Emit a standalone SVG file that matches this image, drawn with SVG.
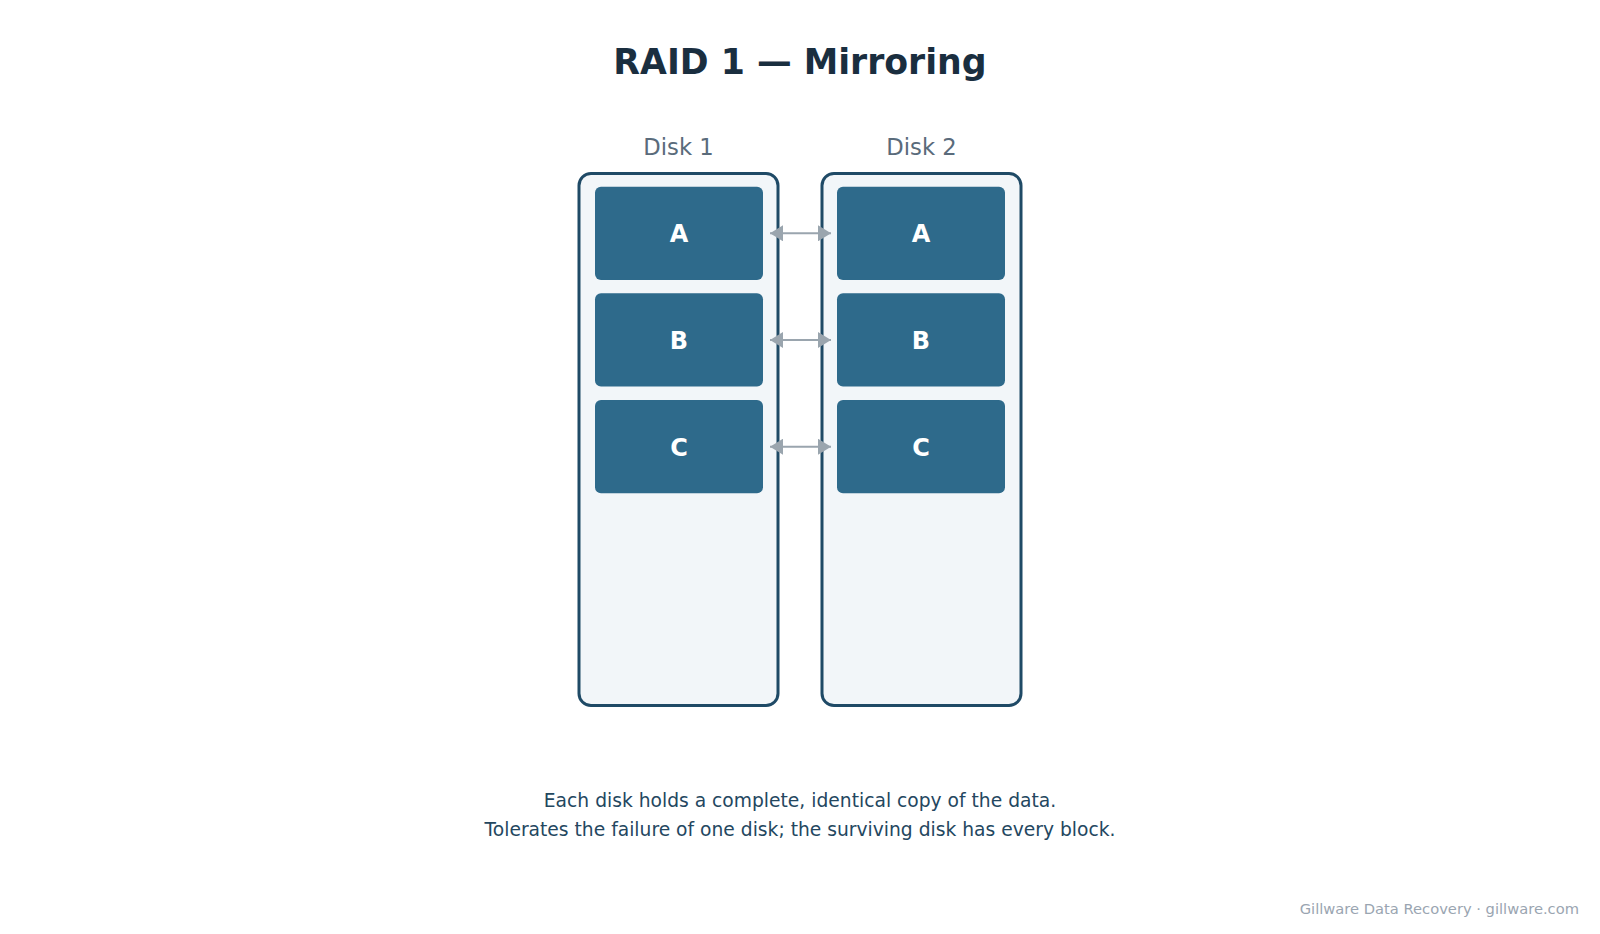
<svg xmlns="http://www.w3.org/2000/svg" width="1600" height="934" viewBox="0 0 1600 934">
<style>
text{font-family:"DejaVu Sans",sans-serif}
.title{font-size:34.7px;font-weight:bold;fill:#1a2e3f}
.dlabel{font-size:22.7px;fill:#5a6b7b}
.disk{fill:#f2f6f9;stroke:#1f4a66;stroke-width:3}
.blk{fill:#2e6a8b}
.bt{font-size:24px;font-weight:bold;fill:#ffffff}
.cap{font-size:18.7px;fill:#24475f}
.foot{font-size:14.7px;fill:#9aa5b1}
.conn{stroke:#9aa5ae;stroke-width:2;fill:none}
</style>
<defs>
<marker id="ah" markerUnits="userSpaceOnUse" markerWidth="13" markerHeight="16" refX="13" refY="8" orient="auto-start-reverse">
<path d="M0,0 L13,8 L0,16 z" fill="#9aa5ae"/>
</marker>
</defs>
<rect width="1600" height="934" fill="#ffffff"/>
<text class="title" x="800" y="74" text-anchor="middle">RAID 1 — Mirroring</text>
<g id="disk1">
<text class="dlabel" x="678.5" y="155" text-anchor="middle">Disk 1</text>
<rect class="disk" x="579" y="173.5" width="199" height="532" rx="12"/>
</g>
<g id="disk2">
<text class="dlabel" x="921.5" y="155" text-anchor="middle">Disk 2</text>
<rect class="disk" x="822" y="173.5" width="199" height="532" rx="12"/>
</g>
<g id="d1-a"><rect class="blk" x="595" y="186.7" width="168" height="93.3" rx="6"/><text class="bt" x="679" y="234.3" text-anchor="middle" dominant-baseline="central">A</text></g>
<g id="d1-b"><rect class="blk" x="595" y="293.3" width="168" height="93.3" rx="6"/><text class="bt" x="679" y="341" text-anchor="middle" dominant-baseline="central">B</text></g>
<g id="d1-c"><rect class="blk" x="595" y="400" width="168" height="93.3" rx="6"/><text class="bt" x="679" y="447.7" text-anchor="middle" dominant-baseline="central">C</text></g>
<g id="d2-a"><rect class="blk" x="837" y="186.7" width="168" height="93.3" rx="6"/><text class="bt" x="921" y="234.3" text-anchor="middle" dominant-baseline="central">A</text></g>
<g id="d2-b"><rect class="blk" x="837" y="293.3" width="168" height="93.3" rx="6"/><text class="bt" x="921" y="341" text-anchor="middle" dominant-baseline="central">B</text></g>
<g id="d2-c"><rect class="blk" x="837" y="400" width="168" height="93.3" rx="6"/><text class="bt" x="921" y="447.7" text-anchor="middle" dominant-baseline="central">C</text></g>
<g id="connectors">
<line class="conn" x1="770" y1="233.3" x2="831" y2="233.3" marker-start="url(#ah)" marker-end="url(#ah)"/>
<line class="conn" x1="770" y1="340" x2="831" y2="340" marker-start="url(#ah)" marker-end="url(#ah)"/>
<line class="conn" x1="770" y1="446.7" x2="831" y2="446.7" marker-start="url(#ah)" marker-end="url(#ah)"/>
</g>
<text class="cap" x="800" y="806.5" text-anchor="middle">Each disk holds a complete, identical copy of the data.</text>
<text class="cap" x="800" y="835.5" text-anchor="middle">Tolerates the failure of one disk; the surviving disk has every block.</text>
<text class="foot" x="1579" y="914" text-anchor="end">Gillware Data Recovery · gillware.com</text>
</svg>
